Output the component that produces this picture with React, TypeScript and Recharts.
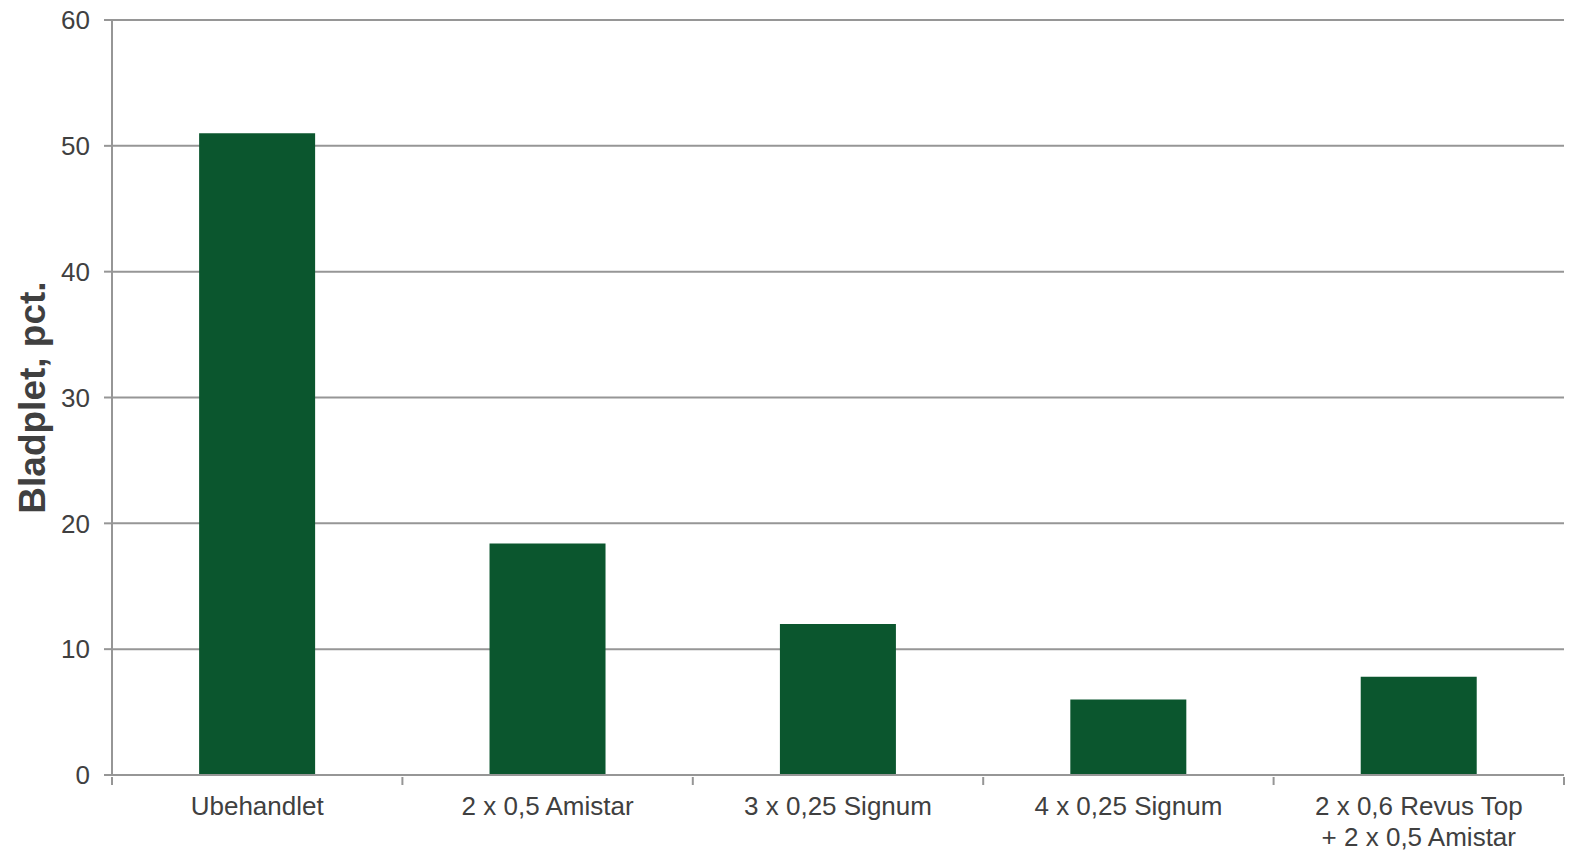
import { BarChart, Bar, XAxis, YAxis, CartesianGrid, Label } from "recharts";

const categories = ["Ubehandlet", "2 x 0,5 Amistar", "3 x 0,25 Signum", "4 x 0,25 Signum", "2 x 0,6 Revus Top\n+ 2 x 0,5 Amistar"];
const values = [51, 18.4, 12, 6, 7.8];
const yTicks = [0, 10, 20, 30, 40, 50, 60];

const data = categories.map((name, i) => ({ name, value: values[i] }));

const W = 1570;
const H = 851;
const margin = { top: 20, right: 6, bottom: 0, left: 0 };
const yAxisWidth = 112;
const band = (W - margin.left - margin.right - yAxisWidth) / categories.length;

const font = "'Liberation Sans', Arial, sans-serif";
const textColor = "#404040";
const lineColor = "#969696";

const XTick = ({ x, y, payload, index }: any) => {
  const lines = String(payload.value).split("\n");
  return (
    <g>
      <line x1={x - band / 2} x2={x - band / 2} y1={y - 8} y2={y} stroke={lineColor} strokeWidth={2} />
      {index === categories.length - 1 && (
        <line x1={x + band / 2} x2={x + band / 2} y1={y - 8} y2={y} stroke={lineColor} strokeWidth={2} />
      )}
      <text x={x} y={y + 12} textAnchor="middle" fill={textColor} fontSize={26} fontFamily={font}>
        {lines.map((l, i) => (
          <tspan key={i} x={x} dy={i === 0 ? "0.71em" : 31}>
            {l}
          </tspan>
        ))}
      </text>
    </g>
  );
};

export default function App() {
  return (
    <div style={{ position: "absolute", left: 0, top: 0, background: "#fff" }}>
      <BarChart width={W} height={H} data={data} margin={margin} barCategoryGap="30%">
        <CartesianGrid vertical={false} stroke={lineColor} strokeWidth={2} />
        <XAxis
          dataKey="name"
          interval={0}
          tickLine={false}
          tickSize={8}
          axisLine={{ stroke: lineColor, strokeWidth: 2 }}
          tick={<XTick />}
          height={76}
        />
        <YAxis
          domain={[0, 60]}
          ticks={yTicks}
          width={yAxisWidth}
          tickSize={8}
          tickMargin={14}
          tickLine={{ stroke: lineColor, strokeWidth: 2 }}
          axisLine={{ stroke: lineColor, strokeWidth: 2 }}
          tick={{ fill: textColor, fontSize: 26, fontFamily: font }}
        >
          <Label
            content={({ viewBox }: any) => {
              const cx = viewBox.x + 32;
              const cy = viewBox.y + viewBox.height / 2;
              return (
                <text
                  x={cx}
                  y={cy}
                  transform={`rotate(-90, ${cx}, ${cy})`}
                  textAnchor="middle"
                  dominantBaseline="central"
                  fill={textColor}
                  fontSize={37}
                  fontWeight="bold"
                  fontFamily={font}
                >
                  Bladplet, pct.
                </text>
              );
            }}
          />
        </YAxis>
        <Bar dataKey="value" fill="#0B562E" isAnimationActive={false} />
      </BarChart>
    </div>
  );
}
